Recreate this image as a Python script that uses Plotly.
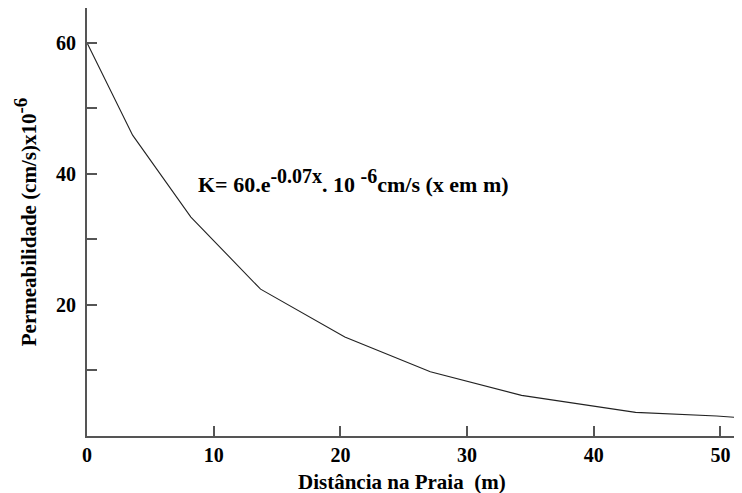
import plotly.graph_objects as go

# Data
distance_m = [0, 3.6, 8.2, 13.7, 20.35, 27.1, 34.3, 43.3, 49.7, 51.9]
permeability = [60, 45.9, 33.4, 22.4, 15.1, 9.8, 6.2, 3.6, 3.05, 2.75]

x_ticks = [0, 10, 20, 30, 40, 50]
y_ticks = [10, 20, 30, 40, 50, 60]
y_tick_text = ["", "20", "", "40", "", "60"]

FONT = "Liberation Serif"
FS = 20      # tick labels
FT = 21      # titles and equation


def sup(t, size):
    # superscript kept at (almost) full size, as in the reference
    return f"<sup><span style='font-size:{size - 2}px'>{t}</span></sup>"


fig = go.Figure()
fig.add_trace(go.Scatter(
    x=distance_m, y=permeability, mode="lines",
    line=dict(color="#222222", width=1.1), showlegend=False, hoverinfo="skip",
))

fig.add_annotation(
    x=8.6, y=38.9, xref="x", yref="y", xanchor="left", yanchor="middle",
    text=f"<b>K= 60.e{sup('-0.07x', FT + 1)}. 10 {sup('-6', FT + 1)}cm/s (x em m)</b>",
    showarrow=False, font=dict(family=FONT, size=FT + 1, color="black"),
)

# x-axis title, placed as in the reference (slightly left of centre)
fig.add_annotation(
    x=0.481, y=0, xref="paper", yref="paper", xanchor="center", yanchor="top",
    yshift=-32, text="<b>Distância na Praia&nbsp;&nbsp;(m)</b>", showarrow=False,
    font=dict(family=FONT, size=FT, color="black"),
)

# the page body adds an 8px offset; the figure is sized to fill the window
fig.update_layout(
    width=734, height=485,
    margin=dict(l=79, r=0, t=0, b=57),
    plot_bgcolor="white", paper_bgcolor="white",
    font=dict(family=FONT, size=FS, color="black"),
    xaxis=dict(
        range=[0, 51.7], tickvals=x_ticks, ticks="inside", ticklen=10,
        tickwidth=1.5, tickcolor="#555555", automargin=False,
        showline=True, linecolor="#555555", linewidth=1.8,
        showgrid=False, zeroline=False,
        tickfont=dict(family=FONT, size=FS, color="black", weight="bold"),
    ),
    yaxis=dict(
        range=[0, 65.3], tickvals=y_ticks, ticktext=y_tick_text,
        ticks="inside", ticklen=10, tickwidth=1.5, tickcolor="#555555",
        automargin=False, ticklabelstandoff=5,
        showline=True, linecolor="#555555", linewidth=1.8,
        showgrid=False, zeroline=False,
        tickfont=dict(family=FONT, size=FS, color="black", weight="bold"),
        title=dict(text=f"<b>Permeabilidade (cm/s)x10{sup('-6', FT)}</b>", standoff=14,
                   font=dict(family=FONT, size=FT, color="black")),
    ),
)

fig.write_html("out.html")
